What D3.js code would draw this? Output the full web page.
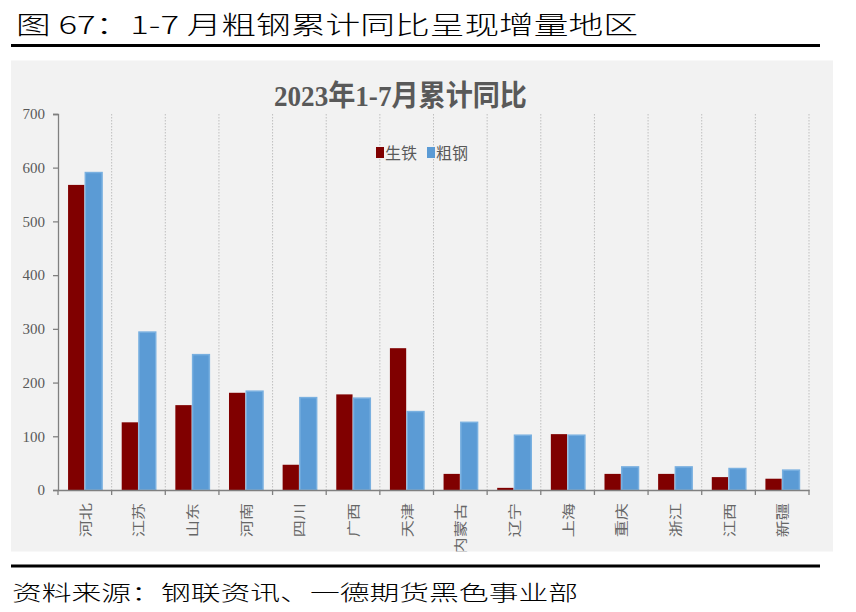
<!DOCTYPE html>
<html><head><meta charset="utf-8">
<script src="https://cdn.jsdelivr.net/npm/d3@7/dist/d3.min.js"></script>
<style>
html,body{margin:0;padding:0;background:#fff;}
svg{display:block;}
</style></head>
<body>
<svg id="c" width="856" height="612"></svg>
<script>
const categories = ["河北","江苏","山东","河南","四川","广西","天津","内蒙古","辽宁","上海","重庆","浙江","江西","新疆"];
const seriesNames = ["生铁","粗钢"];
const pigIron = [568, 126, 158, 181, 47, 178, 264, 30, 4, 104, 30, 30, 24, 21];
const crudeSteel = [591, 294, 252, 184, 172, 171, 146, 126, 102, 102, 43, 43, 40, 37];
const yTicks = [0,100,200,300,400,500,600,700];
const colors = ["#800000","#5b9bd5"];

const svg = d3.select("#c");
const cjk = "'Noto Sans CJK SC','Noto Sans',sans-serif";
const serif = "'Liberation Serif','DejaVu Serif',serif";

// header
svg.append("text").attr("x",16).attr("y",34).attr("font-family",cjk).attr("font-size",25).attr("font-weight",300)
  .attr("fill","#000").attr("textLength",622).attr("lengthAdjust","spacingAndGlyphs")
  .text("图 67：1-7 月粗钢累计同比呈现增量地区");
svg.append("rect").attr("x",11).attr("y",44).attr("width",809).attr("height",3).attr("fill","#000");

// panel
svg.append("rect").attr("x",11).attr("y",60.5).attr("width",822).attr("height",491).attr("fill","#f2f2f2");
svg.append("clipPath").attr("id","pc").append("rect").attr("x",11).attr("y",60.5).attr("width",822).attr("height",491);
const g = svg.append("g").attr("clip-path","url(#pc)");

// footer
svg.append("rect").attr("x",11).attr("y",564.5).attr("width",809).attr("height",3).attr("fill","#000");
svg.append("text").attr("x",12).attr("y",600).attr("font-family",cjk).attr("font-size",21).attr("font-weight",300)
  .attr("fill","#000").attr("textLength",566).attr("lengthAdjust","spacingAndGlyphs")
  .text("资料来源：钢联资讯、一德期货黑色事业部");

// chart title
const t = g.append("text").attr("x",274).attr("y",106).attr("font-weight","bold").attr("fill","#595959")
  .attr("font-size",29).attr("textLength",253).attr("lengthAdjust","spacingAndGlyphs");
t.append("tspan").attr("font-family",serif).text("2023");
t.append("tspan").attr("font-family",cjk).text("年");
t.append("tspan").attr("font-family",serif).text("1-7");
t.append("tspan").attr("font-family",cjk).text("月累计同比");

const x0 = 58, x1e = 809, yTop = 114, yBot = 490;
const x = d3.scaleBand().domain(categories).range([x0, x1e]).padding(0);
const xs = d3.scaleBand().domain(seriesNames).range([0, x.bandwidth()]).paddingInner(0).paddingOuter(0.6);
const y = d3.scaleLinear().domain([0,700]).range([yBot, yTop]);

// vertical dotted gridlines at category boundaries
const bounds = categories.map((c,i)=> x(c) + x.bandwidth());
g.append("g").selectAll("line").data(bounds).join("line")
  .attr("x1",d=>d).attr("x2",d=>d).attr("y1",yTop).attr("y2",yBot)
  .attr("stroke","#bfbfbf").attr("stroke-width",1).attr("stroke-dasharray","1.5,1.5");

// bars
const data = categories.map((c,i)=>({c, vals:[pigIron[i], crudeSteel[i]]}));
const grp = g.append("g").selectAll("g").data(data).join("g").attr("transform",d=>`translate(${x(d.c)},0)`);
grp.selectAll("rect").data(d=>d.vals.map((v,k)=>({k,v}))).join("rect")
  .attr("x",d=>xs(seriesNames[d.k]) + (d.k===1?0.5:0))
  .attr("width",d=> xs.bandwidth() - (d.k===1?0:0.5))
  .attr("y",d=>y(d.v)).attr("height",d=>yBot - y(d.v))
  .attr("fill",d=>colors[d.k])
  .attr("stroke",d=>d.k===1?"#79b0e0":"none").attr("stroke-width",1.5);

// y axis
const ya = g.append("g").attr("transform",`translate(${x0},0)`)
  .call(d3.axisLeft(y).tickValues(yTicks).tickSize(5).tickPadding(8).tickFormat(d3.format("d")));
ya.select(".domain").attr("stroke","#808080").attr("stroke-width",1.3);
ya.selectAll(".tick line").attr("stroke","#808080").attr("stroke-width",1.3);
ya.selectAll(".tick text").attr("font-family",serif).attr("font-size",15).attr("fill","#595959");

// x axis
const xa = g.append("g").attr("transform",`translate(0,${yBot})`)
  .call(d3.axisBottom(x).tickSize(0).tickFormat(""));
xa.select(".domain").attr("stroke","#808080").attr("stroke-width",1.3);
xa.selectAll(".tick").remove();
const tickPos = [x0].concat(bounds);
xa.selectAll("line.bt").data(tickPos).join("line").attr("class","bt")
  .attr("x1",d=>d).attr("x2",d=>d).attr("y1",0).attr("y2",5)
  .attr("stroke","#808080").attr("stroke-width",1.3);
xa.selectAll("text.lab").data(categories).join("text").attr("class","lab")
  .attr("transform",d=>`translate(${x(d)+x.bandwidth()/2 + 5},13) rotate(-90) scale(1.32,1)`)
  .attr("text-anchor","end").attr("font-family",cjk).attr("font-size",13).attr("fill","#666")
  .text(d=>d);

// legend
const lg = g.append("g");
const legendItems = [{n:seriesNames[0],c:colors[0],x:376},{n:seriesNames[1],c:colors[1],x:427}];
lg.selectAll("rect").data(legendItems).join("rect").attr("x",d=>d.x).attr("y",147).attr("width",8).attr("height",11).attr("fill",d=>d.c);
lg.selectAll("text").data(legendItems).join("text").attr("x",d=>d.x+9).attr("y",159)
  .attr("font-family",cjk).attr("font-size",16).attr("fill","#595959").text(d=>d.n);
</script>
</body></html>
